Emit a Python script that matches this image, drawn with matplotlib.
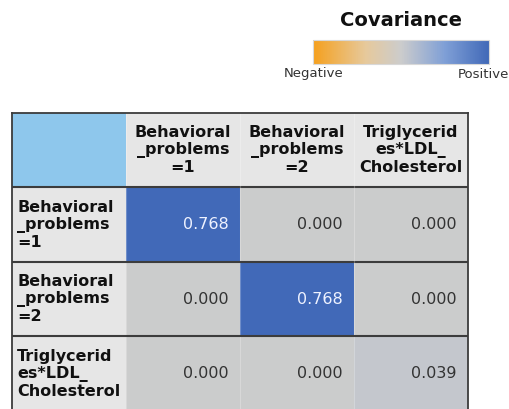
import matplotlib
matplotlib.use("Agg")
import matplotlib.pyplot as plt
from matplotlib.colors import LinearSegmentedColormap, Normalize
from matplotlib.cm import ScalarMappable
from matplotlib.patches import Rectangle
import numpy as np

# covariance matrix shown in the table
row_labels = ["Behavioral\n_problems\n=1", "Behavioral\n_problems\n=2", "Triglycerid\nes*LDL_\nCholesterol"]
col_labels = ["Behavioral\n_problems\n=1", "Behavioral\n_problems\n=2", "Triglycerid\nes*LDL_\nCholesterol"]
cov = np.array([
    [0.768, 0.000, 0.000],
    [0.000, 0.768, 0.000],
    [0.000, 0.000, 0.039],
])

W, H = 510, 409
fig = plt.figure(figsize=(W / 100, H / 100), dpi=100)
fig.patch.set_facecolor("white")

cmap = LinearSegmentedColormap.from_list(
    "cov", [(0.0, "#f5a01e"), (0.3, "#e6c99c"), (0.5, "#cccccc"),
            (0.75, "#7f9fd6"), (1.0, "#4169b8")])
vmax = np.abs(cov).max()
norm = Normalize(-vmax, vmax)


def px_axes(x0, y0, x1, y1):
    # axes placed by pixel box (top-left origin)
    return fig.add_axes([x0 / W, 1 - y1 / H, (x1 - x0) / W, (y1 - y0) / H])


# legend: title + gradient bar
fig.text(401 / W, 1 - 21 / H, "Covariance", ha="center", va="center",
         fontsize=14, fontweight="bold", color="#111111")
cax = px_axes(313, 40, 489, 64)
cb = fig.colorbar(ScalarMappable(norm=norm, cmap=cmap), cax=cax, orientation="horizontal")
cb.set_ticks([])
cb.outline.set_edgecolor("#d8d8d8")
cb.outline.set_linewidth(0.8)
fig.text(284 / W, 1 - 74 / H, "Negative", ha="left", va="center", fontsize=9.5, color="#333333")
fig.text(458 / W, 1 - 74 / H, "Positive", ha="left", va="center", fontsize=9.5, color="#333333")

# table
n = len(row_labels)
ax = px_axes(12, 113, 468, 411)
ax.set_xlim(0, n + 1)
ax.set_ylim(n + 1, 0)
ax.set_xticks([])
ax.set_yticks([])
for s in ax.spines.values():
    s.set_edgecolor("#3c3c3c")
    s.set_linewidth(1.3)

xe = np.arange(1, n + 2)
ax.pcolormesh(xe, xe, cov, cmap=cmap, norm=norm, shading="flat")

ax.add_patch(Rectangle((0, 0), 1, 1, facecolor="#8ec7ec", edgecolor="none"))
for i in range(n):
    ax.add_patch(Rectangle((i + 1, 0), 1, 1, facecolor="#e6e6e6", edgecolor="none"))
    ax.add_patch(Rectangle((0, i + 1), 1, 1, facecolor="#e6e6e6", edgecolor="none"))

for k in range(1, n + 1):
    ax.axvline(k, color="white", lw=0.8, alpha=0.25)
    ax.axhline(k, color="#3c3c3c", lw=1.5)

for j, lab in enumerate(col_labels):
    ax.text(j + 1.5, 0.5, lab, ha="center", va="center", fontsize=11.5,
            fontweight="bold", color="#111111", linespacing=1.15)
for i, lab in enumerate(row_labels):
    ax.text(0.045, i + 1.5, lab, ha="left", va="center", fontsize=11.5,
            fontweight="bold", color="#111111", linespacing=1.15)
    for j in range(n):
        v = cov[i, j]
        col = "#eef2ff" if norm(v) > 0.8 else "#333333"
        ax.text(j + 1.9, i + 1.5, f"{v:.3f}", ha="right", va="center",
                fontsize=11.5, color=col)

fig.savefig("out.png", dpi=100)
